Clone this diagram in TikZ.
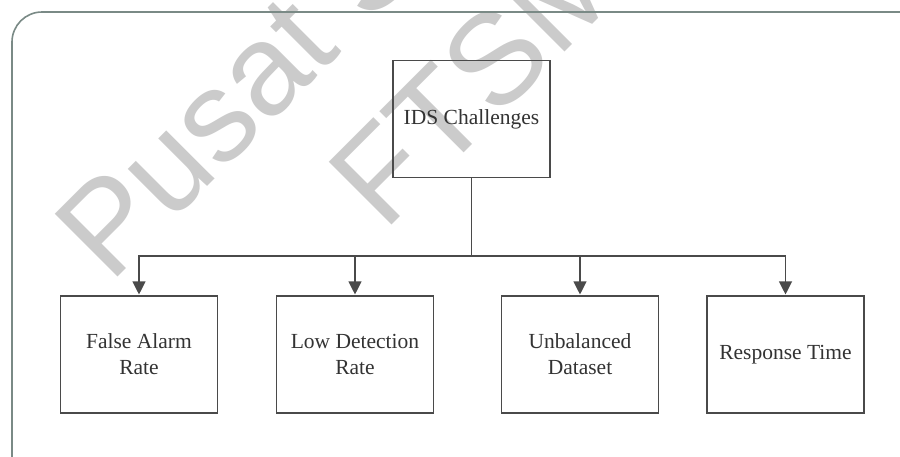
\documentclass[tikz,border=0pt]{standalone}
\usepackage{fontspec}
\setmainfont{Liberation Serif}
\newfontfamily\wmfont{Liberation Sans}
\usetikzlibrary{arrows.meta}
\definecolor{framecol}{HTML}{7A8A86}
\definecolor{boxcol}{HTML}{4A4A4A}
\definecolor{txtcol}{HTML}{333333}
\definecolor{wmcol}{HTML}{CBCBCB}
\tikzset{
  stepbox/.style={draw=boxcol, line width=1.1pt, fill=none, minimum width=157pt,
    minimum height=117pt, inner sep=0pt, align=center, text=txtcol,
    font=\fontsize{21.5}{26}\selectfont},
  link/.style={draw=boxcol, line width=1.1pt},
  arr/.style={link, -{Triangle[width=13pt,length=13pt]}, shorten >=1pt},
  frameline/.style={draw=framecol, line width=1.6pt, rounded corners=30pt},
  wmark/.style={text=wmcol, rotate=45, anchor=base, inner sep=0pt,
    font=\wmfont\fontsize{129}{158}\selectfont}
}
\begin{document}
\begin{tikzpicture}[x=1pt,y=-1pt]
  \useasboundingbox (0,0) rectangle (900,456);
  \clip (0,0) rectangle (900,456);
  \fill[white] (0,0) rectangle (900,456);

  % watermark
  \node[wmark] (wm1) at (399,-5) {Pusat Sumber};
  \node[wmark] (wm2) at (509,108) {FTSM};

  % outer frame with rounded top-left corner
  \draw[frameline] (910,12) -- (12,12) -- (12,470);

  % boxes
  \node[stepbox] (top) at (471.5,119) {IDS Challenges};
  \node[stepbox] (b1) at (139,354.5) {False Alarm\\Rate};
  \node[stepbox] (b2) at (355,354.5) {Low Detection\\Rate};
  \node[stepbox] (b3) at (580,354.5) {Unbalanced\\Dataset};
  \node[stepbox] (b4) at (785.5,354.5) {Response Time};

  % connectors
  \coordinate (bar) at (471.5,256);
  \draw[link] (top.south) -- (bar);
  \draw[arr] (bar) -| (b1.north);
  \draw[arr] (bar) -| (b2.north);
  \draw[arr] (bar) -| (b3.north);
  \draw[arr] (bar) -| (b4.north);
\end{tikzpicture}
\end{document}
